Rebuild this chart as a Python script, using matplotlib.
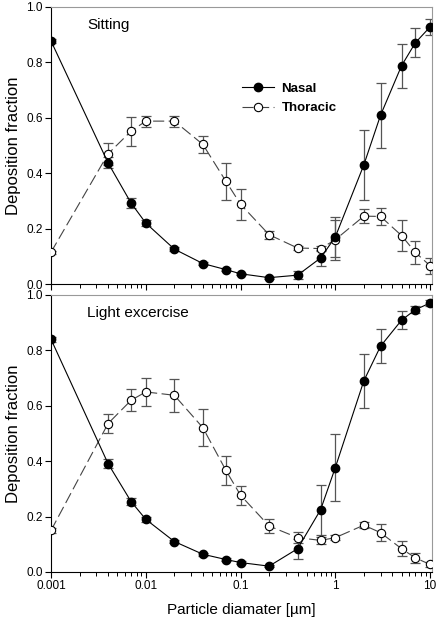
import numpy as np
import matplotlib
matplotlib.use('Agg')
import matplotlib.pyplot as plt
from matplotlib.ticker import LogLocator, FixedLocator, NullFormatter

plt.rcParams['font.family'] = ['Liberation Sans', 'DejaVu Sans']

# particle diameters [um]
diam = [0.001, 0.004, 0.007, 0.01, 0.02, 0.04, 0.07, 0.1, 0.2, 0.4, 0.7, 1, 2, 3, 5, 7, 10]

# sitting
nasal_sit = [0.877, 0.437, 0.292, 0.22, 0.126, 0.074, 0.052, 0.037, 0.023, 0.032, 0.094, 0.17,
             0.43, 0.609, 0.788, 0.871, 0.928]
nasal_sit_err = [0.008, 0.02, 0.018, 0.01, 0.006, 0.005, 0.005, 0.004, 0.004, 0.015, 0.03, 0.072,
                 0.125, 0.117, 0.08, 0.053, 0.03]
thor_sit = [0.115, 0.47, 0.552, 0.588, 0.588, 0.504, 0.371, 0.288, 0.178, 0.13, 0.128, 0.16,
            0.245, 0.244, 0.175, 0.114, 0.066]
thor_sit_err = [0.006, 0.04, 0.052, 0.02, 0.02, 0.03, 0.067, 0.056, 0.015, 0.006, 0.01, 0.072,
                0.024, 0.031, 0.055, 0.043, 0.029]

# light excercise
nasal_ex = [0.84, 0.391, 0.254, 0.19, 0.11, 0.064, 0.045, 0.034, 0.021, 0.084, 0.225, 0.377,
            0.69, 0.815, 0.909, 0.947, 0.971]
nasal_ex_err = [0.008, 0.017, 0.013, 0.01, 0.006, 0.005, 0.005, 0.004, 0.003, 0.036, 0.09, 0.122,
                0.098, 0.062, 0.032, 0.013, 0.01]
thor_ex = [0.15, 0.536, 0.62, 0.65, 0.638, 0.521, 0.367, 0.277, 0.166, 0.124, 0.114, 0.124,
           0.169, 0.142, 0.084, 0.051, 0.027]
thor_ex_err = [0.01, 0.036, 0.04, 0.051, 0.06, 0.066, 0.052, 0.034, 0.024, 0.019, 0.013, 0.008,
               0.012, 0.03, 0.028, 0.017, 0.01]

fig = plt.figure(figsize=(4.4, 6.23), dpi=100)
ax1 = fig.add_axes([0.116, 0.5441, 0.866, 0.4447])
ax2 = fig.add_axes([0.116, 0.0819, 0.866, 0.4446])

panels = [(ax1, nasal_sit, nasal_sit_err, thor_sit, thor_sit_err, 'Sitting'),
          (ax2, nasal_ex, nasal_ex_err, thor_ex, thor_ex_err, 'Light excercise')]

for ax, nas, nas_e, tho, tho_e, title in panels:
    ax.errorbar(diam, tho, yerr=tho_e, fmt='none', ecolor='#555555', elinewidth=0.9,
                capsize=3.5, capthick=0.9, zorder=2)
    ax.errorbar(diam, nas, yerr=nas_e, fmt='none', ecolor='#555555', elinewidth=0.9,
                capsize=3.5, capthick=0.9, zorder=2)
    ax.plot(diam, tho, color='#444444', lw=0.8, ls=(0, (10, 4)), marker='o', ms=6,
            mfc='white', mec='black', mew=0.8, label='Thoracic', zorder=3)
    ax.plot(diam, nas, color='black', lw=0.8, ls='-', marker='o', ms=6,
            mfc='black', mec='black', label='Nasal', zorder=4)
    ax.set_xscale('log')
    ax.set_xlim(0.001, 10.5)
    ax.set_ylim(0, 1.0)
    ax.set_yticks([0, 0.2, 0.4, 0.6, 0.8, 1.0])
    ax.set_yticklabels(['0.0', '0.2', '0.4', '0.6', '0.8', '1.0'])
    ax.xaxis.set_major_locator(FixedLocator([0.001, 0.01, 0.1, 1, 10]))
    ax.xaxis.set_minor_locator(LogLocator(base=10, subs=np.arange(2, 10)))
    ax.xaxis.set_minor_formatter(NullFormatter())
    ax.tick_params(axis='both', which='major', direction='out', length=4.5, width=0.8,
                   labelsize=8.5, pad=1.5)
    ax.tick_params(axis='x', which='minor', direction='out', length=3, width=0.7)
    ax.spines['top'].set_color('#999999')
    ax.spines['right'].set_color('#999999')
    ax.set_ylabel('Deposition fraction', fontsize=12, labelpad=4)
    ax.text(0.095, 0.935, title, transform=ax.transAxes, fontsize=11, va='center')

ax1.set_xticklabels([])
ax2.set_xticklabels(['0.001', '0.01', '0.1', '1', '10'])
ax2.set_xlabel('Particle diamater [\u00b5m]', fontsize=11, labelpad=8)

h, l = ax1.get_legend_handles_labels()
leg = ax1.legend(h[::-1], l[::-1], loc='upper left', bbox_to_anchor=(0.47, 0.77),
                 frameon=False, handlelength=2.4, handletextpad=0.6,
                 labelspacing=0.55, prop={'weight': 'bold', 'size': 9.5})

fig.savefig('out.png', dpi=100)
